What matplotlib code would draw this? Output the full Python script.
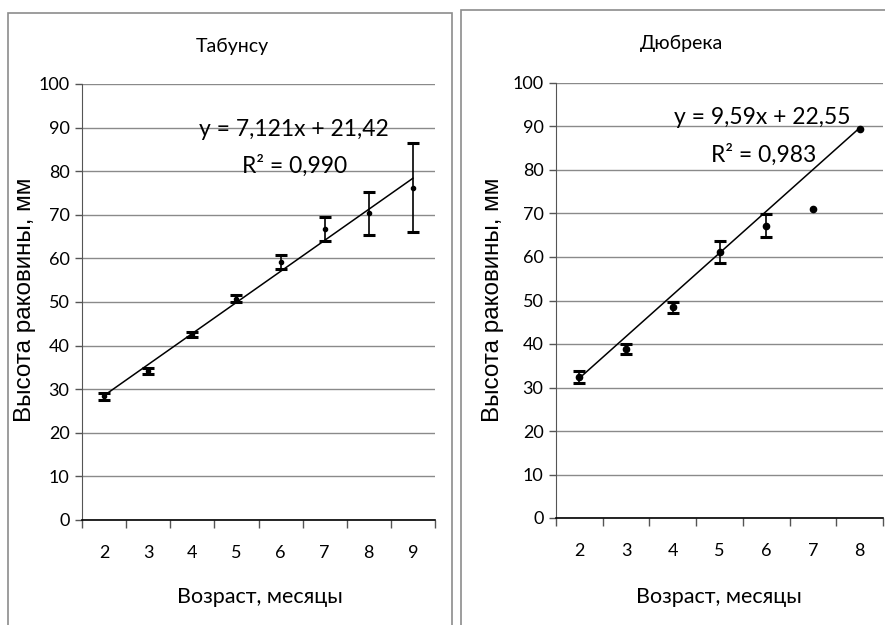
# ==========================================
# Shell height vs age, two sites
# ==========================================

import matplotlib
matplotlib.use("Agg")
import matplotlib.pyplot as plt
from matplotlib.patches import Rectangle

# ==========================================
# Data
# ==========================================

ages_tab = ["2", "3", "4", "5", "6", "7", "8", "9"]
height_tab = [28.4, 34.2, 42.6, 50.8, 59.2, 66.8, 70.3, 76.2]
err_tab = [0.8, 0.6, 0.6, 0.9, 1.6, 2.8, 5.0, 10.2]
trend_tab = (7.121, 21.42)
r2_tab = "0,990"

ages_dub = ["2", "3", "4", "5", "6", "7", "8"]
height_dub = [32.4, 38.9, 48.4, 61.2, 67.2, 71.0, 89.4]
err_dub = [1.3, 1.2, 1.3, 2.5, 2.7, 0.0, 0.0]
trend_dub = (9.59, 22.55)
r2_dub = "0,983"

narrow = ["Lato", "DejaVu Sans"]
wide = ["Liberation Sans", "DejaVu Sans"]

# ==========================================
# Figure
# ==========================================

W, H = 885, 625
fig = plt.figure(figsize=(W / 100, H / 100), dpi=100)

# panel frames
fig.add_artist(Rectangle((8 / W, -0.05), 444 / W, 1.05 - 13 / H,
                         transform=fig.transFigure, fill=False,
                         edgecolor="#8c8c8c", linewidth=1.2))
fig.add_artist(Rectangle((461 / W, -0.05), 0.5, 1.05 - 10 / H,
                         transform=fig.transFigure, fill=False,
                         edgecolor="#8c8c8c", linewidth=1.2))


def draw_panel(rect, title, ages, values, errors, trend, r2,
               title_xy, eq_xy, r2_xy, ylab_x, xlab_xy, ms):
    ax = fig.add_axes(rect)
    n = len(ages)
    xs = list(range(1, n + 1))

    # trendline
    slope, icpt = trend
    tx = [1, n]
    ax.plot(tx, [slope * v + icpt for v in tx], color="black", lw=1.1,
            zorder=3)

    ax.plot(xs, values, "o", color="black", ms=ms, zorder=4)
    ex = [x for x, e in zip(xs, errors) if e > 0]
    ey = [v for v, e in zip(values, errors) if e > 0]
    ee = [e for e in errors if e > 0]
    ax.errorbar(ex, ey, yerr=ee, fmt="none", ecolor="black",
                elinewidth=1.2, capsize=4, capthick=2.2, zorder=4)

    ax.set_xlim(0.5, n + 0.5)
    ax.set_ylim(0, 100)
    ax.set_yticks(range(0, 101, 10))
    ax.set_yticklabels([str(v) for v in range(0, 101, 10)],
                       family=narrow, fontsize=13)
    ax.yaxis.grid(True, color="#8a8a8a", lw=1.0)
    ax.set_axisbelow(True)

    # category ticks at boundaries, labels at centers
    ax.set_xticks([i + 0.5 for i in range(0, n + 1)])
    ax.set_xticklabels([""] * (n + 1))
    ax.set_xticks(xs, minor=True)
    ax.set_xticklabels(ages, minor=True, family=narrow, fontsize=13)
    ax.tick_params(axis="x", which="major", length=6, width=1,
                   color="#555555")
    ax.tick_params(axis="x", which="minor", length=0, pad=18)
    ax.tick_params(axis="y", length=5, width=1, color="#555555", pad=4)

    for s in ["top", "right"]:
        ax.spines[s].set_visible(False)
    ax.spines["left"].set_color("#555555")
    ax.spines["bottom"].set_color("black")
    ax.spines["bottom"].set_linewidth(1.2)

    fig.text(title_xy[0] / W, 1 - title_xy[1] / H, title, family=narrow,
             fontsize=14, ha="center", va="center")
    fig.text(eq_xy[0] / W, 1 - eq_xy[1] / H,
             "y = %sx + %s" % (str(slope).replace(".", ","),
                               ("%.2f" % icpt).replace(".", ",")),
             family=narrow, fontsize=16.5, ha="center", va="center")
    fig.text(r2_xy[0] / W, 1 - r2_xy[1] / H, "R² = " + r2,
             family=narrow, fontsize=16.5, ha="center", va="center")
    fig.text(ylab_x / W, 1 - 300 / H, "Высота раковины, мм", family=wide,
             fontsize=17.5, rotation=90, ha="center", va="center")
    fig.text(xlab_xy[0] / W, 1 - xlab_xy[1] / H, "Возраст, месяцы",
             family=narrow, fontsize=15.5, ha="center", va="center")
    return ax


draw_panel([82 / W, 1 - 520 / H, 353 / W, 436 / H], "Табунсу",
           ages_tab, height_tab, err_tab, trend_tab, r2_tab,
           (232, 46), (294, 130), (295, 166), 25, (260, 597), 3)

draw_panel([556 / W, 1 - 518 / H, 327 / W, 435 / H], "Дюбрека",
           ages_dub, height_dub, err_dub, trend_dub, r2_dub,
           (681, 43), (762, 118), (764, 155), 493, (719, 597), 4.5)

plt.savefig("out.png", dpi=100)
